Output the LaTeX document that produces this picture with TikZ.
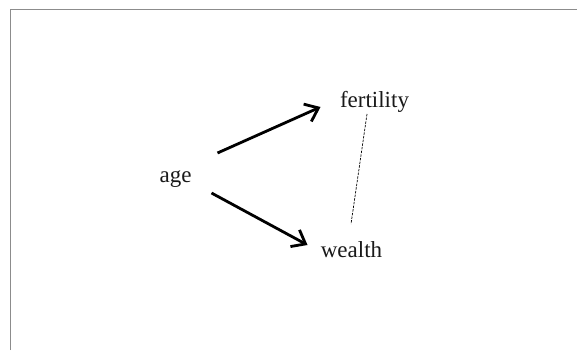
\documentclass[tikz,border=0pt]{standalone}
\usepackage{fontspec}
\setmainfont{Liberation Serif}
\usetikzlibrary{arrows.meta}
\begin{document}
\begin{tikzpicture}[x=1pt,y=-1pt,
  lbl/.style={anchor=base,inner sep=0pt,font=\fontsize{23}{26}\selectfont,text=black!90},
  causal/.style={line width=2.8pt,-{Straight Barb[length=12pt,width=19pt,line width=2.8pt]}},
  assoc/.style={dashed,line width=0.7pt,dash pattern=on 2.5pt off 1.2pt}]
\useasboundingbox (0,0) rectangle (577,350);
\draw[line width=1.6pt,black!45] (10.5,350) -- (10.5,9.5) -- (577,9.5);
\node[lbl] (age) at (175.5,182) {age};
\node[lbl] (fert) at (374.5,107) {fertility};
\node[lbl] (wealth) at (351.5,257) {wealth};
\coordinate (a1) at ([shift={(42,-29)}]age.base);
\coordinate (f1) at ([shift={(-54,0)}]fert.base);
\coordinate (a2) at ([shift={(36,11)}]age.base);
\coordinate (w1) at ([shift={(-44,-12)}]wealth.base);
\coordinate (f2) at ([shift={(-7.5,7)}]fert.base);
\coordinate (w2) at ([shift={(-0.5,-33)}]wealth.base);
\draw[causal] (a1) -- (f1);
\draw[causal] (a2) -- (w1);
\draw[assoc] (f2) -- (w2);
\end{tikzpicture}
\end{document}
